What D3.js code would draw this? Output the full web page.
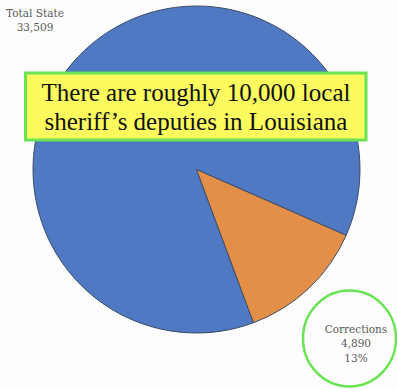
<!DOCTYPE html>
<html>
<head>
<meta charset="utf-8">
<script src="https://cdn.jsdelivr.net/npm/d3@7"></script>
<style>
  html, body { margin: 0; padding: 0; background: #fdfdfd; }
  svg { display: block; }
  .serif { font-family: "Liberation Serif", "DejaVu Serif", serif; }
  .label { font-family: "DejaVu Serif", "Liberation Serif", serif; }
</style>
</head>
<body>
<svg id="chart" width="397" height="389"></svg>
<script>
// Workforce split
const categories = ["Total State", "Corrections"];
const values = [33509, 4890];
const percentLabels = ["87%", "13%"];
const sliceColors = ["#4f79c3", "#e38f48"];
const calloutLines = ["There are roughly 10,000 local", "sheriff\u2019s deputies in Louisiana"];

const W = 397, H = 389;
const cx = 196.5, cy = 169.5, R = 163.5;
const svg = d3.select("#chart");

// Pie rotated so the Corrections wedge sits in the lower-right quadrant
const start = 159.6 * Math.PI / 180;
const pie = d3.pie().sort(null).startAngle(start).endAngle(start + 2 * Math.PI);
const arcs = pie(values);
const arc = d3.arc().innerRadius(0).outerRadius(R);

const g = svg.append("g").attr("transform", `translate(${cx},${cy})`);
g.selectAll("path")
  .data(arcs)
  .join("path")
  .attr("d", arc)
  .attr("fill", (d, i) => sliceColors[i])
  .attr("stroke", "#3b4b63")
  .attr("stroke-width", 1)
  .attr("stroke-linejoin", "round");

const fmt = d3.format(",");

// Total State label, top-left
const tl = svg.append("text")
  .attr("class", "label")
  .attr("text-anchor", "middle")
  .attr("font-size", 10.5)
  .attr("fill", "#595959");
tl.append("tspan").attr("x", 35).attr("y", 16.5).text(categories[0]);
tl.append("tspan").attr("x", 35).attr("y", 30.5).text(fmt(values[0]));

// Corrections label inside green ring
svg.append("ellipse")
  .attr("cx", 349.5).attr("cy", 338.5)
  .attr("rx", 46.5).attr("ry", 48)
  .attr("fill", "none")
  .attr("stroke", "#6ae352")
  .attr("stroke-width", 2.5);

const cl = svg.append("text")
  .attr("class", "label")
  .attr("text-anchor", "middle")
  .attr("font-size", 10.5)
  .attr("fill", "#595959");
cl.append("tspan").attr("x", 356).attr("y", 332.5).text(categories[1]);
cl.append("tspan").attr("x", 356).attr("y", 347).text(fmt(values[1]));
cl.append("tspan").attr("x", 356).attr("y", 361.5).text(percentLabels[1]);

// Callout box
svg.append("rect")
  .attr("x", 25.5).attr("y", 73)
  .attr("width", 340.5).attr("height", 67)
  .attr("fill", "#fbfb5e")
  .attr("stroke", "#6ae352")
  .attr("stroke-width", 3);

const ct = svg.append("text")
  .attr("class", "serif")
  .attr("text-anchor", "middle")
  .attr("font-size", 25)
  .attr("fill", "#111");
calloutLines.forEach((t, i) => {
  ct.append("tspan").attr("x", 196).attr("y", 101 + i * 29).text(t);
});
</script>
</body>
</html>
